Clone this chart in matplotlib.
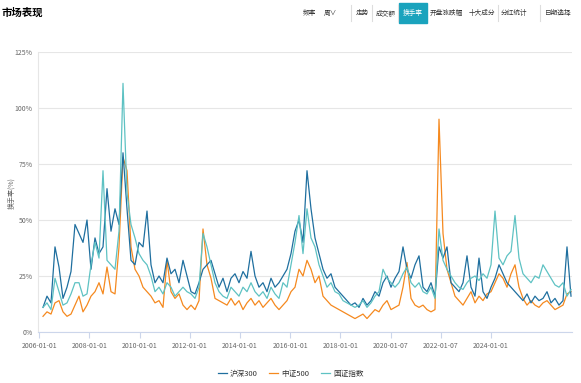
import matplotlib
matplotlib.use("Agg")
import matplotlib.pyplot as plt
import numpy as np
from matplotlib.patches import Rectangle

plt.rcParams['font.family'] = ['Noto Sans CJK SC', 'DejaVu Sans']

# weekly turnover (%), one value per ~2 months
hs300 = [11, 16, 13, 38, 29, 15, 20, 27, 48, 44, 40, 50, 28, 42, 35, 38, 64, 45, 55, 48,
         80, 55, 32, 30, 40, 38, 54, 30, 22, 25, 22, 33, 26, 28, 22, 32, 25, 18, 17, 22,
         28, 30, 32, 26, 20, 24, 18, 24, 26, 22, 27, 24, 36, 25, 20, 22, 18, 24, 20, 22,
         25, 28, 35, 45, 50, 40, 72, 55, 42, 35, 28, 24, 26, 20, 18, 16, 14, 12, 13, 11,
         15, 12, 14, 18, 16, 22, 25, 20, 24, 27, 38, 28, 24, 30, 34, 20, 18, 22, 16, 38,
         33, 38, 22, 20, 18, 22, 34, 20, 16, 33, 18, 15, 20, 24, 30, 26, 22, 20, 18, 16,
         14, 17, 13, 16, 14, 15, 18, 13, 15, 12, 14, 38, 16]
zz500 = [7, 9, 8, 13, 14, 9, 7, 8, 12, 16, 9, 12, 16, 18, 22, 17, 29, 18, 17, 38,
         78, 72, 38, 28, 25, 20, 18, 16, 13, 14, 11, 32, 18, 15, 17, 12, 10, 12, 10, 14,
         46, 30, 24, 15, 14, 13, 12, 15, 12, 14, 10, 13, 15, 12, 14, 11, 13, 15, 12, 10,
         12, 14, 18, 20, 28, 25, 32, 28, 22, 25, 16, 14, 12, 11, 10, 9, 8, 7, 6, 7,
         8, 6, 8, 10, 9, 12, 14, 10, 11, 12, 20, 31, 15, 12, 11, 12, 10, 9, 10, 95,
         44, 28, 22, 16, 14, 12, 15, 18, 13, 16, 14, 17, 18, 22, 26, 24, 20, 26, 30, 20,
         15, 12, 14, 12, 11, 13, 14, 12, 10, 11, 12, 17, 18]
gz_idx = [11, 13, 10, 24, 18, 12, 13, 17, 22, 22, 16, 17, 30, 40, 33, 72, 32, 30, 28, 45,
          111, 62, 48, 42, 35, 32, 30, 25, 18, 20, 17, 22, 20, 16, 18, 20, 18, 17, 15, 20,
          44, 38, 30, 22, 18, 16, 15, 20, 18, 16, 20, 18, 22, 18, 16, 18, 15, 20, 17, 15,
          22, 20, 30, 40, 52, 35, 55, 42, 38, 30, 25, 20, 22, 18, 17, 14, 13, 12, 11, 12,
          14, 11, 13, 16, 18, 28, 24, 22, 20, 22, 26, 29, 22, 20, 22, 18, 17, 20, 15, 46,
          32, 28, 25, 22, 20, 19, 22, 24, 25, 23, 26, 24, 30, 54, 33, 30, 34, 36, 52, 33,
          26, 24, 22, 25, 24, 30, 27, 24, 21, 20, 22, 16, 19]

tick_labels = ['2006-01-01', '2008-01-01', '2010-01-01', '2012-01-01', '2014-01-01',
               '2016-01-01', '2018-01-01', '2020-01-07', '2022-01-07', '2024-01-01']
tick_pos = [-0.93, 11.62, 24.17, 36.72, 49.27, 61.82, 74.37, 86.92, 99.47, 112.02]

yticks = [0, 25, 50, 75, 100, 125]

c_blue = '#1f6f9f'
c_orange = '#f5891f'
c_teal = '#5ec2c3'

fig = plt.figure(figsize=(5.81, 3.83), dpi=100)
ax = fig.add_axes([38/581, 1-332/383, (572-38)/581, (332-52)/383])

x = np.arange(len(hs300))
ax.plot(x, hs300, color=c_blue, lw=0.9, label='沪深300', zorder=3)
ax.plot(x, zz500, color=c_orange, lw=0.9, label='中证500', zorder=2)
ax.plot(x, gz_idx, color=c_teal, lw=0.9, label='国证指数', zorder=4)

ax.set_xlim(-1.25, 132.25)
ax.set_ylim(0, 125)
ax.set_yticks(yticks)
ax.set_yticklabels([f'{v}%' for v in yticks])
ax.set_xticks(tick_pos)
ax.set_xticklabels(tick_labels)
ax.grid(axis='y', color='#e6e6e6', lw=0.8)
ax.set_axisbelow(True)
for s in ['top', 'right']:
    ax.spines[s].set_visible(False)
ax.spines['left'].set_color('#e6e6e6')
ax.spines['bottom'].set_color('#ccd6eb')
ax.tick_params(axis='y', length=0, labelsize=5, labelcolor='#666666', pad=4)
ax.tick_params(axis='x', length=4, color='#ccd6eb', labelsize=5, labelcolor='#666666', pad=3)
fig.text(11/581, 1-193/383, '换手率(%)', fontsize=5, color='#666666', rotation=90,
         ha='center', va='center')

leg = fig.legend(loc='center', bbox_to_anchor=(0.5, 1-374/383), ncol=3, frameon=False,
                 fontsize=5.5, handlelength=1.2, handletextpad=0.4, columnspacing=1.5)
for t in leg.get_texts():
    t.set_color('#333333')

# header
fig.text(2/581, 1-13/383, '市场表现', fontsize=7.5, fontweight='bold', va='center', ha='left')
items = [('频率', 309), ('周∨', 330), ('走势', 362), ('成交额', 386), ('换手率', 413),
         ('开盘涨跌幅', 446), ('十大成分', 482), ('分红统计', 514), ('日期选择', 558)]
for label, cx in items:
    col = 'white' if label == '换手率' else '#333333'
    fig.text(cx/581, 1-13/383, label, fontsize=4.8, color=col, va='center', ha='center', zorder=5)
fig.patches.append(Rectangle((399/581, 1-23/383), 28/581, 20/383, transform=fig.transFigure,
                             color='#1aa3bd', zorder=1))
for sx in [351, 372, 398, 498, 540]:
    fig.lines.append(plt.Line2D([sx/581, sx/581], [1-21/383, 1-5/383], transform=fig.transFigure,
                                color='#dddddd', lw=0.8))

fig.savefig('out.png', dpi=100)
